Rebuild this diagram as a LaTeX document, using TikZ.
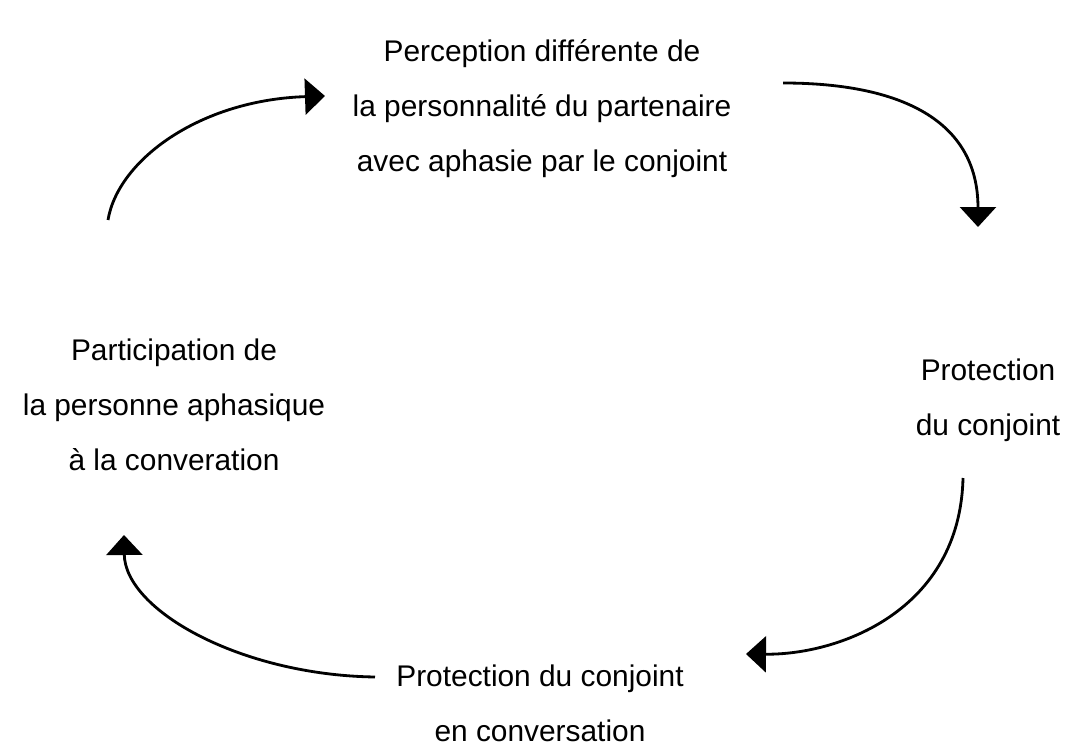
\documentclass[tikz,border=0pt]{standalone}
\usepackage{fontspec}
\setmainfont{Liberation Sans}
\usetikzlibrary{arrows.meta}

\tikzset{
  cycletext/.style={align=center,font=\fontsize{17pt}{31.3pt}\selectfont},
  cyclearrow/.style={line width=1.6pt,-{Triangle[length=0.4cm,width=0.72cm]}}
}

\begin{document}
\begin{tikzpicture}[x=0.02cm,y=-0.02cm]
  \useasboundingbox (0,0) rectangle (1065,746);
  \node[cycletext] (perception) at (542,109) {Perception différente de\\la personnalité du partenaire\\avec aphasie par le conjoint};
  \node[cycletext] (protection) at (988,400) {Protection\\du conjoint};
  \node[cycletext] (conversation) at (540,703) {Protection du conjoint\\en conversation};
  \node[cycletext] (participation) at (174,405) {Participation de\\la personne aphasique\\à la converation};
  % free ends of the arrows
  \coordinate (s1) at (108,220);
  \coordinate (e1) at (325,96);
  \coordinate (s2) at (783,83);
  \coordinate (e2) at (978,227);
  \coordinate (s3) at (963,478);
  \coordinate (e3) at (746,654);
  \coordinate (s4) at (375,677);
  \coordinate (e4) at (124,535);
  \draw[cyclearrow] (s1) .. controls (118,160) and (200,100) .. (e1);
  \draw[cyclearrow] (s2) .. controls (900,83) and (978,120) .. (e2);
  \draw[cyclearrow] (s3) .. controls (960,610) and (840,655) .. (e3);
  \draw[cyclearrow] (s4) .. controls (240,675) and (125,610) .. (e4);
\end{tikzpicture}
\end{document}
